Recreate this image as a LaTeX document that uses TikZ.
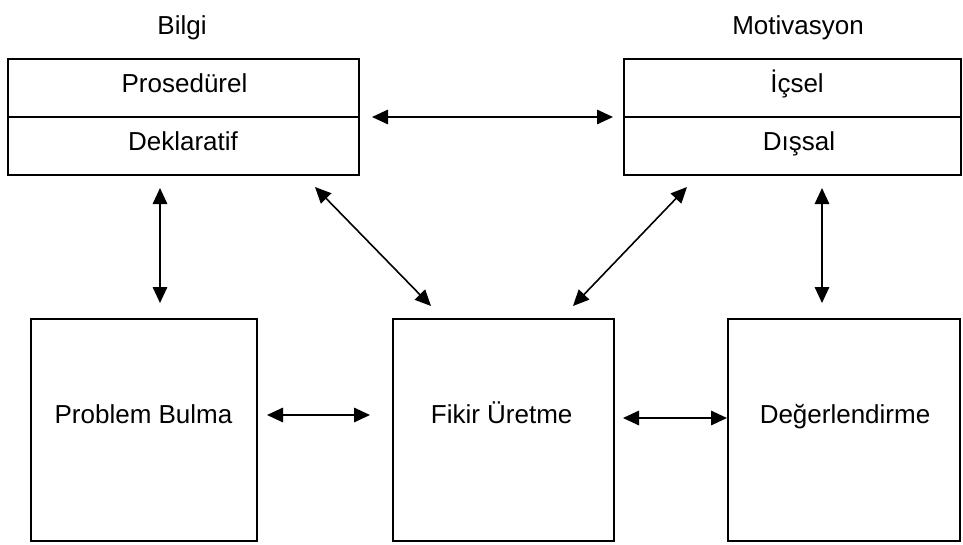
\documentclass[tikz,border=0pt]{standalone}
\usepackage{fontspec}
\setmainfont{Liberation Sans}
\usetikzlibrary{arrows.meta}
\begin{document}
\begin{tikzpicture}[x=1pt,y=-1pt,
  box/.style={draw, line width=1.5pt, inner sep=0pt, outer sep=0pt},
  lbl/.style={inner sep=0pt, anchor=base, font=\fontsize{26}{30}\selectfont},
  arr/.style={line width=1.6pt, {Triangle[length=16pt,width=14.5pt]}-{Triangle[length=16pt,width=14.5pt]}}]
\useasboundingbox (0,0) rectangle (963,544);

% Bilgi block: two stacked cells
\node[box, minimum width=351pt, minimum height=58pt] (pros) at (183.5,88) {};
\node[box, minimum width=351pt, minimum height=58pt] (dekl) at (183.5,146) {};
% Motivasyon block
\node[box, minimum width=337pt, minimum height=58pt] (icsel) at (792.5,88) {};
\node[box, minimum width=337pt, minimum height=58pt] (dissal) at (792.5,146) {};
% process boxes
\node[box, minimum width=226pt, minimum height=222pt] (pb) at (144,430) {};
\node[box, minimum width=221pt, minimum height=222pt] (fu) at (503.5,430) {};
\node[box, minimum width=232pt, minimum height=222pt] (de) at (844,430) {};

% texts
\node[lbl] (bilgiT) at (182,34.5) {Bilgi};
\node[lbl] (motT) at (798,34.5) {Motivasyon};
\node[lbl] (prosT) at (184.5,92) {Prosedürel};
\node[lbl] (deklT) at (183,150) {Deklaratif};
\node[lbl] (icselT) at (797,92) {İçsel};
\node[lbl] (dissalT) at (799,150) {Dışsal};
\node[lbl] (pbT) at (143.5,423) {Problem Bulma};
\node[lbl] (fuT) at (501.7,423) {Fikir Üretme};
\node[lbl] (deT) at (845,423) {Değerlendirme};

% connectors
\draw[arr] ([xshift=13pt]pros.south east) -- ([xshift=-11pt]icsel.south west);
\draw[arr] ([shift={(-23.5,13)}]dekl.south) -- ([shift={(16,-16)}]pb.north);
\draw[arr] ([shift={(29.5,13)}]dissal.south) -- ([shift={(-22,-16)}]de.north);
\draw[arr] ([shift={(-44,12)}]dekl.south east) -- ([shift={(-72.5,-13)}]fu.north);
\draw[arr] ([shift={(63,12)}]dissal.south west) -- ([shift={(69.5,-13)}]fu.north);
\draw[arr] ([shift={(10,-15)}]pb.east) -- ([shift={(-23,-15)}]fu.west);
\draw[arr] ([shift={(9,-12)}]fu.east) -- ([shift={(-1,-12)}]de.west);
\end{tikzpicture}
\end{document}
